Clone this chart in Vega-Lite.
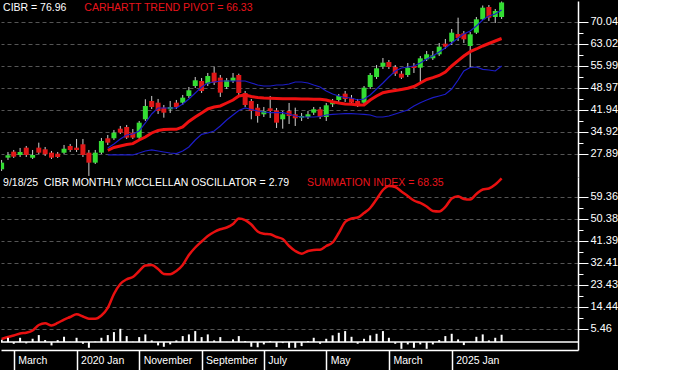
{
  "$schema": "https://vega.github.io/schema/vega-lite/v6.json",
  "background": "#000000",
  "padding": 0,
  "spacing": 0,
  "bounds": "flush",
  "config": {
    "view": {"stroke": null},
    "axis": {"labelColor": "#ffffff", "labelFont": "Liberation Sans", "labelFontSize": 11, "domainColor": "#ffffff", "tickColor": "#ffffff", "gridColor": "#555555", "gridDash": [4, 3], "title": null}
  },
  "data": {"values": [
    {"d":"2019-01-01","o":22.90,"h":25.88,"l":22.36,"c":25.02,"si":1.26,"os":1.0},
    {"d":"2019-02-01","o":26.62,"h":28.44,"l":25.88,"c":27.38,"si":2.08,"os":1.76},
    {"d":"2019-03-01","o":28.54,"h":29.08,"l":26.52,"c":26.94,"si":2.69,"os":-0.69},
    {"d":"2019-04-01","o":27.48,"h":29.72,"l":26.84,"c":28.44,"si":3.51,"os":1.76},
    {"d":"2019-05-01","o":29.82,"h":30.36,"l":26.84,"c":27.48,"si":3.84,"os":-0.54},
    {"d":"2019-06-01","o":26.62,"h":29.08,"l":26.20,"c":27.48,"si":4.73,"os":1.35},
    {"d":"2019-07-01","o":29.82,"h":31.42,"l":27.80,"c":28.22,"si":6.98,"os":2.86},
    {"d":"2019-08-01","o":29.30,"h":30.04,"l":27.16,"c":27.70,"si":7.67,"os":0.82},
    {"d":"2019-09-01","o":28.22,"h":28.76,"l":26.20,"c":26.62,"si":6.78,"os":-1.35},
    {"d":"2019-10-01","o":27.90,"h":28.44,"l":26.52,"c":26.84,"si":7.80,"os":0.82},
    {"d":"2019-11-01","o":28.22,"h":30.68,"l":27.80,"c":29.50,"si":9.22,"os":2.16},
    {"d":"2019-12-01","o":30.36,"h":31.00,"l":28.44,"c":29.08,"si":10.25,"os":0.1},
    {"d":"2020-01-01","o":29.82,"h":32.60,"l":28.44,"c":29.08,"si":11.35,"os":1.76},
    {"d":"2020-02-01","o":30.90,"h":32.60,"l":26.84,"c":27.48,"si":10.45,"os":-0.69},
    {"d":"2020-03-01","o":28.22,"h":29.08,"l":20.76,"c":25.02,"si":9.55,"os":-2.33},
    {"d":"2020-04-01","o":25.02,"h":29.08,"l":24.60,"c":28.22,"si":9.55,"os":0.2},
    {"d":"2020-05-01","o":28.22,"h":32.92,"l":27.80,"c":31.96,"si":10.86,"os":1.76},
    {"d":"2020-06-01","o":32.82,"h":33.88,"l":30.68,"c":31.42,"tp":28.98,"up":29.72,"lo":27.48,"si":13.92,"os":2.86},
    {"d":"2020-07-01","o":32.82,"h":35.48,"l":32.28,"c":34.62,"tp":29.88,"up":31.00,"lo":27.48,"si":19.63,"os":4.08},
    {"d":"2020-08-01","o":35.90,"h":36.76,"l":34.20,"c":34.62,"tp":30.36,"up":32.60,"lo":27.48,"si":23.72,"os":5.43},
    {"d":"2020-09-01","o":36.44,"h":37.08,"l":32.60,"c":33.02,"tp":30.84,"up":33.88,"lo":27.48,"si":25.64,"os":2.45},
    {"d":"2020-10-01","o":34.62,"h":35.80,"l":32.60,"c":33.02,"tp":31.10,"up":34.20,"lo":27.48,"si":26.58,"os":0.14},
    {"d":"2020-11-01","o":33.02,"h":38.36,"l":32.60,"c":37.82,"tp":32.28,"up":35.16,"lo":28.12,"si":29.03,"os":2.04},
    {"d":"2020-12-01","o":38.90,"h":45.30,"l":38.36,"c":43.16,"tp":33.24,"up":37.72,"lo":28.76,"si":31.27,"os":3.14},
    {"d":"2021-01-01","o":44.76,"h":46.36,"l":42.20,"c":42.84,"tp":34.52,"up":40.60,"lo":29.08,"si":31.48,"os":0.69},
    {"d":"2021-02-01","o":44.22,"h":45.40,"l":40.60,"c":41.56,"tp":35.32,"up":42.52,"lo":28.76,"si":29.84,"os":-1.35},
    {"d":"2021-03-01","o":42.62,"h":43.48,"l":39.42,"c":41.02,"tp":35.64,"up":42.52,"lo":28.44,"si":27.80,"os":-1.92},
    {"d":"2021-04-01","o":42.10,"h":44.76,"l":40.92,"c":42.84,"tp":35.70,"up":42.52,"lo":28.12,"si":27.68,"os":-0.94},
    {"d":"2021-05-01","o":44.22,"h":45.08,"l":42.20,"c":42.84,"tp":35.70,"up":42.52,"lo":27.90,"si":29.03,"os":0.69},
    {"d":"2021-06-01","o":44.22,"h":46.68,"l":43.48,"c":45.82,"tp":36.44,"up":43.80,"lo":28.76,"si":31.48,"os":2.45},
    {"d":"2021-07-01","o":46.36,"h":49.24,"l":45.72,"c":48.18,"tp":38.20,"up":45.40,"lo":30.04,"si":35.56,"os":3.14},
    {"d":"2021-08-01","o":49.56,"h":52.44,"l":48.92,"c":51.38,"tp":39.64,"up":47.32,"lo":32.28,"si":38.62,"os":4.49},
    {"d":"2021-09-01","o":51.16,"h":52.12,"l":47.32,"c":47.96,"tp":40.92,"up":49.24,"lo":34.10,"si":41.07,"os":2.04},
    {"d":"2021-10-01","o":50.30,"h":53.72,"l":49.56,"c":52.76,"tp":42.20,"up":50.52,"lo":34.52,"si":43.31,"os":3.14},
    {"d":"2021-11-01","o":53.82,"h":55.74,"l":49.88,"c":50.62,"tp":42.84,"up":50.84,"lo":35.16,"si":44.95,"os":0.69},
    {"d":"2021-12-01","o":52.22,"h":53.08,"l":46.04,"c":47.42,"tp":43.16,"up":51.16,"lo":36.76,"si":46.05,"os":2.04},
    {"d":"2022-01-01","o":49.24,"h":52.12,"l":48.60,"c":51.38,"tp":44.12,"up":51.16,"lo":38.68,"si":46.78,"os":0.1},
    {"d":"2022-02-01","o":51.16,"h":53.72,"l":50.52,"c":52.22,"tp":45.08,"up":51.16,"lo":40.28,"si":48.21,"os":1.1},
    {"d":"2022-03-01","o":53.08,"h":53.50,"l":46.04,"c":47.32,"tp":46.36,"up":51.16,"lo":41.72,"si":50.46,"os":2.45},
    {"d":"2022-04-01","o":47.32,"h":47.96,"l":42.84,"c":43.48,"tp":46.68,"up":51.16,"lo":42.52,"si":49.84,"os":0.41},
    {"d":"2022-05-01","o":44.76,"h":45.40,"l":38.90,"c":41.56,"tp":46.20,"up":50.52,"lo":42.04,"si":48.01,"os":-1.9},
    {"d":"2022-06-01","o":42.62,"h":43.80,"l":37.82,"c":39.96,"tp":45.88,"up":49.88,"lo":41.56,"si":45.15,"os":-2.1},
    {"d":"2022-07-01","o":40.50,"h":42.84,"l":39.64,"c":41.56,"tp":45.72,"up":49.56,"lo":41.24,"si":44.25,"os":-0.94},
    {"d":"2022-08-01","o":42.42,"h":46.36,"l":39.32,"c":41.56,"tp":45.62,"up":49.56,"lo":41.02,"si":44.01,"os":0.41},
    {"d":"2022-09-01","o":41.78,"h":42.52,"l":36.12,"c":37.82,"tp":45.56,"up":49.88,"lo":41.02,"si":42.91,"os":-2.04},
    {"d":"2022-10-01","o":38.90,"h":41.56,"l":35.90,"c":40.50,"tp":45.50,"up":49.88,"lo":41.02,"si":42.09,"os":-0.41},
    {"d":"2022-11-01","o":41.56,"h":44.12,"l":37.40,"c":39.96,"tp":45.50,"up":50.20,"lo":40.60,"si":39.23,"os":-2.33},
    {"d":"2022-12-01","o":40.50,"h":42.62,"l":36.76,"c":39.22,"tp":45.46,"up":50.84,"lo":39.96,"si":37.19,"os":-2.33},
    {"d":"2023-01-01","o":39.42,"h":40.92,"l":38.36,"c":39.96,"tp":45.40,"up":50.84,"lo":39.64,"si":36.09,"os":-1.63},
    {"d":"2023-02-01","o":39.64,"h":41.56,"l":39.00,"c":40.50,"tp":45.40,"up":50.52,"lo":39.64,"si":37.19,"os":0.41},
    {"d":"2023-03-01","o":41.02,"h":42.84,"l":40.28,"c":42.10,"tp":45.34,"up":49.88,"lo":39.64,"si":37.60,"os":1.76},
    {"d":"2023-04-01","o":42.10,"h":42.84,"l":39.00,"c":39.64,"tp":45.30,"up":49.24,"lo":39.80,"si":37.72,"os":-0.69},
    {"d":"2023-05-01","o":39.64,"h":44.12,"l":38.36,"c":43.38,"tp":45.08,"up":47.96,"lo":40.28,"si":39.23,"os":1.35},
    {"d":"2023-06-01","o":43.70,"h":45.40,"l":42.84,"c":44.54,"tp":44.54,"up":47.00,"lo":40.50,"si":40.66,"os":2.74},
    {"d":"2023-07-01","o":45.08,"h":47.00,"l":44.44,"c":46.36,"tp":44.12,"up":46.36,"lo":40.60,"si":44.54,"os":3.80},
    {"d":"2023-08-01","o":47.10,"h":47.96,"l":44.44,"c":45.40,"tp":43.80,"up":45.88,"lo":40.70,"si":49.03,"os":4.49},
    {"d":"2023-09-01","o":45.62,"h":46.68,"l":43.48,"c":44.22,"tp":43.70,"up":45.72,"lo":40.70,"si":50.46,"os":2.16},
    {"d":"2023-10-01","o":44.76,"h":45.40,"l":42.84,"c":43.48,"tp":43.48,"up":45.08,"lo":40.60,"si":50.87,"os":-0.69},
    {"d":"2023-11-01","o":44.22,"h":49.56,"l":43.80,"c":49.02,"tp":43.48,"up":45.40,"lo":40.50,"si":52.70,"os":1.35},
    {"d":"2023-12-01","o":49.24,"h":53.72,"l":48.60,"c":53.08,"tp":45.08,"up":46.68,"lo":40.28,"si":54.74,"os":2.74},
    {"d":"2024-01-01","o":52.44,"h":56.28,"l":51.80,"c":55.22,"tp":46.36,"up":48.60,"lo":39.64,"si":58.30,"os":3.39},
    {"d":"2024-02-01","o":55.74,"h":58.52,"l":55.00,"c":57.02,"tp":47.42,"up":50.52,"lo":39.64,"si":62.09,"os":4.49},
    {"d":"2024-03-01","o":57.24,"h":57.88,"l":55.00,"c":55.64,"tp":47.80,"up":52.44,"lo":39.96,"si":63.73,"os":1.76},
    {"d":"2024-04-01","o":55.64,"h":56.28,"l":52.76,"c":53.50,"tp":48.12,"up":54.36,"lo":40.60,"si":63.32,"os":-0.69},
    {"d":"2024-05-01","o":53.50,"h":54.36,"l":51.80,"c":52.22,"tp":48.44,"up":55.32,"lo":41.24,"si":61.48,"os":-2.74},
    {"d":"2024-06-01","o":53.08,"h":56.92,"l":52.44,"c":55.42,"tp":48.82,"up":55.64,"lo":41.88,"si":59.64,"os":-0.94},
    {"d":"2024-07-01","o":55.96,"h":56.92,"l":53.72,"c":55.32,"tp":49.40,"up":55.96,"lo":43.16,"si":57.81,"os":-2.33},
    {"d":"2024-08-01","o":55.42,"h":59.16,"l":50.62,"c":58.42,"tp":50.52,"up":56.92,"lo":44.22,"si":56.79,"os":-0.94},
    {"d":"2024-09-01","o":58.10,"h":60.76,"l":57.56,"c":59.70,"tp":51.64,"up":58.20,"lo":45.08,"si":55.36,"os":-2.74},
    {"d":"2024-10-01","o":58.42,"h":60.76,"l":57.88,"c":59.38,"tp":52.22,"up":59.16,"lo":45.82,"si":53.52,"os":-0.94},
    {"d":"2024-11-01","o":59.70,"h":63.32,"l":59.16,"c":62.14,"tp":52.92,"up":60.44,"lo":46.36,"si":53.32,"os":0.82},
    {"d":"2024-12-01","o":63.10,"h":64.60,"l":61.40,"c":62.14,"tp":54.04,"up":61.72,"lo":46.90,"si":55.16,"os":2.45},
    {"d":"2025-01-01","o":63.74,"h":67.80,"l":62.68,"c":66.62,"tp":55.96,"up":63.32,"lo":48.60,"si":58.63,"os":3.39},
    {"d":"2025-02-01","o":66.20,"h":71.42,"l":63.96,"c":64.92,"tp":57.66,"up":64.92,"lo":51.48,"si":59.57,"os":1.10},
    {"d":"2025-03-01","o":66.42,"h":67.16,"l":63.32,"c":64.50,"tp":59.16,"up":66.20,"lo":54.36,"si":58.42,"os":-1.22},
    {"d":"2025-04-01","o":62.36,"h":66.84,"l":55.42,"c":66.10,"tp":60.54,"up":67.16,"lo":55.48,"si":58.21,"os":0.12},
    {"d":"2025-05-01","o":66.62,"h":71.64,"l":66.20,"c":70.90,"tp":61.40,"up":68.76,"lo":55.64,"si":60.46,"os":2.16},
    {"d":"2025-06-01","o":70.90,"h":75.32,"l":70.68,"c":74.62,"tp":62.36,"up":70.68,"lo":54.90,"si":62.30,"os":3.14},
    {"d":"2025-07-01","o":74.84,"h":75.48,"l":70.36,"c":71.42,"tp":63.16,"up":71.96,"lo":54.68,"si":62.71,"os":0.69},
    {"d":"2025-08-01","o":71.64,"h":74.20,"l":69.72,"c":73.56,"tp":63.96,"up":72.60,"lo":54.36,"si":64.34,"os":1.76},
    {"d":"2025-09-01","o":71.64,"h":76.60,"l":71.00,"c":76.30,"tp":64.76,"up":73.88,"lo":55.96,"si":66.87,"os":3.0}
  ]},
  "vconcat": [
    {
      "width": 577,
      "height": 176,
      "resolve": {"axis": {"y": "independent"}},
      "layer": [
        {
          "mark": {"type": "rule", "color": "#d0d0d0", "strokeWidth": 1},
          "encoding": {
            "x": {"field": "d", "type": "temporal", "scale": {"type": "utc", "padding": 0, "domain": [{"year": 2018, "month": 12, "date": 29, "utc": true}, {"year": 2026, "month": 9, "date": 8, "utc": true}]}, "axis": null},
            "y": {"field": "l", "type": "quantitative", "scale": {"domain": [20.43, 76.76], "nice": false, "zero": false, "padding": 0},
              "axis": {"orient": "right", "title": null,
                "values": [27.89, 34.92, 41.94, 48.97, 55.99, 63.02, 70.04],
                "format": ".2f", "tickSize": 10,
                "grid": true, "labelPadding": 2, "domainWidth": 1.5, "labelOverlap": false, "labelFlush": false}},
            "y2": {"field": "h"}
          }
        },
        {
          "mark": {"type": "bar", "size": 5, "clip": true},
          "encoding": {
            "x": {"field": "d", "type": "temporal"},
            "y": {"field": "o", "type": "quantitative",
              "axis": {"orient": "right", "title": null, "values": [31.405, 38.43, 45.455, 52.48, 59.505, 66.53],
                "labels": false, "grid": false, "domain": false, "tickSize": 5}},
            "y2": {"field": "c"},
            "color": {"condition": {"test": "datum.c >= datum.o", "value": "#33dd33"}, "value": "#e01818"}
          }
        },
        {
          "mark": {"type": "line", "color": "#ee1111", "strokeWidth": 3},
          "encoding": {"x": {"field": "d", "type": "temporal"}, "y": {"field": "tp", "type": "quantitative", "axis": null}}
        },
        {
          "mark": {"type": "line", "color": "#1c1cc8", "strokeWidth": 1.2},
          "encoding": {"x": {"field": "d", "type": "temporal"}, "y": {"field": "up", "type": "quantitative", "axis": null}}
        },
        {
          "mark": {"type": "line", "color": "#1c1cc8", "strokeWidth": 1.2},
          "encoding": {"x": {"field": "d", "type": "temporal"}, "y": {"field": "lo", "type": "quantitative", "axis": null}}
        },
        {
          "data": {"values": [{}]},
          "mark": {"type": "text", "align": "left", "baseline": "middle", "color": "#ffffff", "font": "Liberation Sans", "fontSize": 10.5},
          "encoding": {
            "x": {"datum": {"year": 2019, "month": 1, "date": 8, "utc": true}, "type": "temporal"},
            "y": {"datum": 74.52, "type": "quantitative", "axis": null},
            "text": {"value": "CIBR = 76.96"}
          }
        },
        {
          "data": {"values": [{}]},
          "mark": {"type": "text", "align": "left", "baseline": "middle", "color": "#e8141c", "font": "Liberation Sans", "fontSize": 10.5},
          "encoding": {
            "x": {"datum": {"year": 2020, "month": 2, "date": 8, "utc": true}, "type": "temporal"},
            "y": {"datum": 74.52, "type": "quantitative", "axis": null},
            "text": {"value": "CARHARTT TREND PIVOT = 66.33"}
          }
        }
      ]
    },
    {
      "width": 577,
      "height": 173,
      "resolve": {"axis": {"y": "independent"}},
      "layer": [
        {
          "mark": {"type": "line", "color": "#e81010", "strokeWidth": 2.5, "interpolate": "monotone", "clip": true},
          "encoding": {
            "x": {"field": "d", "type": "temporal", "scale": {"type": "utc", "padding": 0, "domain": [{"year": 2018, "month": 12, "date": 29, "utc": true}, {"year": 2026, "month": 9, "date": 8, "utc": true}]},
              "axis": {"title": null,
                "values": [{"year": 2019, "month": 3, "date": 1, "utc": true}, {"year": 2020, "month": 1, "date": 1, "utc": true}, {"year": 2020, "month": 11, "date": 1, "utc": true}, {"year": 2021, "month": 9, "date": 1, "utc": true}, {"year": 2022, "month": 7, "date": 1, "utc": true}, {"year": 2023, "month": 5, "date": 1, "utc": true}, {"year": 2024, "month": 3, "date": 1, "utc": true}, {"year": 2025, "month": 1, "date": 1, "utc": true}],
                "labelExpr": "utcmonth(datum.value) == 0 ? utcyear(datum.value) + ' Jan' : utcFormat(datum.value, '%B')",
                "tickSize": 21, "tickWidth": 1.5, "domainWidth": 1.5, "grid": false,
                "labelAlign": "left", "labelBaseline": "middle", "labelPadding": -11, "labelOffset": 4,
                "labelFontSize": 10.5, "labelFlush": false, "labelOverlap": false, "labelBound": false}},
            "y": {"field": "si", "type": "quantitative", "scale": {"domain": [-3.23, 67.40], "nice": false, "zero": false, "padding": 0},
              "axis": {"orient": "right", "title": null,
                "values": [5.46, 14.44, 23.43, 32.41, 41.39, 50.38, 59.36],
                "format": ".2f", "tickSize": 10,
                "grid": true, "labelPadding": 2, "domainWidth": 1.5, "labelOverlap": false, "labelFlush": false}}
          }
        },
        {
          "mark": {"type": "bar", "size": 2, "color": "#ffffff", "clip": true},
          "encoding": {
            "x": {"field": "d", "type": "temporal"},
            "y": {"field": "os", "type": "quantitative",
              "axis": {"orient": "right", "title": null, "values": [9.95, 18.935, 27.92, 36.90, 45.885, 54.87],
                "labels": false, "grid": false, "domain": false, "tickSize": 5}},
            "y2": {"datum": 0}
          }
        },
        {
          "data": {"values": [{}]},
          "mark": {"type": "rule", "color": "#ffffff", "strokeWidth": 1.5},
          "encoding": {"y": {"datum": 0, "type": "quantitative", "axis": null}}
        },
        {
          "data": {"values": [{}]},
          "mark": {"type": "text", "align": "left", "baseline": "middle", "color": "#ffffff", "font": "Liberation Sans", "fontSize": 10.5},
          "encoding": {
            "x": {"datum": {"year": 2019, "month": 1, "date": 8, "utc": true}, "type": "temporal"},
            "y": {"datum": 65.07, "type": "quantitative", "axis": null},
            "text": {"value": "9/18/25\u00a0 CIBR MONTHLY MCCLELLAN OSCILLATOR = 2.79"}
          }
        },
        {
          "data": {"values": [{}]},
          "mark": {"type": "text", "align": "left", "baseline": "middle", "color": "#e8141c", "font": "Liberation Sans", "fontSize": 10.5},
          "encoding": {
            "x": {"datum": {"year": 2023, "month": 1, "date": 27, "utc": true}, "type": "temporal"},
            "y": {"datum": 65.07, "type": "quantitative", "axis": null},
            "text": {"value": "SUMMATION INDEX = 68.35"}
          }
        }
      ]
    }
  ]
}
